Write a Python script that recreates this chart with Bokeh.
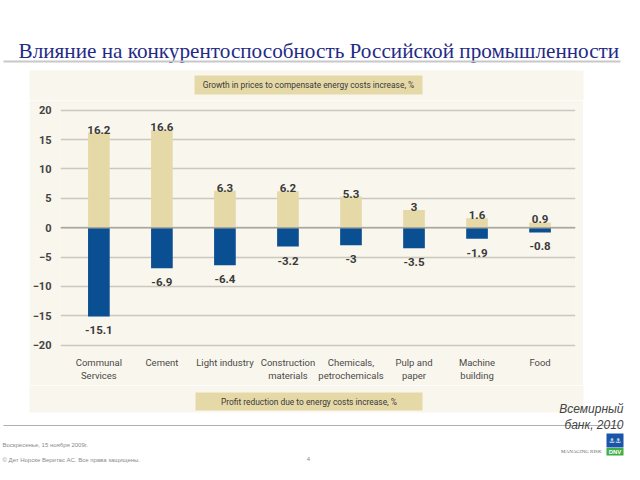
from bokeh.plotting import figure
from bokeh.models import Range1d, FixedTicker, BoxAnnotation, Label, Span, ColumnDataSource, Spacer
from bokeh.layouts import column, row
from bokeh.core.properties import value
from bokeh.embed import file_html
from bokeh.resources import INLINE

# ---------------- data ----------------
categories = ["Communal\nServices", "Cement", "Light industry", "Construction\nmaterials",
              "Chemicals,\npetrochemicals", "Pulp and\npaper", "Machine\nbuilding", "Food"]
price_growth = [16.2, 16.6, 6.3, 6.2, 5.3, 3.0, 1.6, 0.9]
profit_reduction = [-15.1, -6.9, -6.4, -3.2, -3.0, -3.5, -1.9, -0.8]
growth_labels = ["16.2", "16.6", "6.3", "6.2", "5.3", "3", "1.6", "0.9"]
reduction_labels = ["-15.1", "-6.9", "-6.4", "-3.2", "-3", "-3.5", "-1.9", "-0.8"]
y_ticks = [-20, -15, -10, -5, 0, 5, 10, 15, 20]

title_text = "Влияние на конкурентоспособность Российской промышленности"
top_caption = "Growth in prices to compensate energy costs increase, %"
bottom_caption = "Profit reduction due to energy costs increase, %"
source_lines = ["Всемирный", "банк, 2010"]
footer_date = "Воскресенье, 15 ноября 2009г."
footer_copy = "© Дет Норске Веритас АС. Все права защищены."
page_number = "4"
logo_text = "MANAGING RISK"
logo_brand = "DNV"

# ---------------- style ----------------
W = 624
SANS = "Roboto"
PANEL = "#f9f6ed"
BEIGE = "#e6d9a8"
BLUE = "#0b4f93"
GRID = "#cbc8bf"
TXT = "#3a3a3a"

# panel horizontal extent (canvas px)
PL, PR = 29, 583
# vertical split points (canvas px)
SPLIT1, SPLIT2, HTOT = 100, 385, 464


def plain_fig(height):
    f = figure(width=W, height=height, output_backend="svg", toolbar_location=None,
               x_range=Range1d(0, W), y_range=Range1d(0, height),
               x_axis_location=None, y_axis_location=None,
               min_border=0)
    f.min_border_left = f.min_border_right = f.min_border_top = f.min_border_bottom = 0
    f.grid.visible = False
    f.outline_line_color = None
    f.background_fill_color = "white"
    f.border_fill_color = "white"
    return f


def box(f, l, r, t, b, color):
    f.add_layout(BoxAnnotation(left=l, right=r, top=t, bottom=b, fill_color=color,
                               fill_alpha=1, line_color=None))


# ---------------- top figure ----------------
HA = SPLIT1
top = plain_fig(HA)
ya = lambda cy: HA - cy
box(top, PL, PR, ya(70), ya(HA), PANEL)
top.add_layout(Label(x=18, y=ya(50), text=title_text, text_align="left",
                     text_baseline="alphabetic", text_font="Liberation Serif",
                     text_font_size="21.2px", text_color="#1f2b85"))
box(top, 3, 620, ya(60), ya(62), "#c8c8c8")
box(top, 194, 422, ya(75), ya(94), BEIGE)
top.add_layout(Label(x=308, y=ya(84.5), text=top_caption, text_align="center",
                     text_baseline="middle", text_font=SANS, text_font_size="8.4px",
                     text_color=TXT))

# ---------------- chart figure ----------------
FL, FR, FT, FB = 52, 575, 107, 347   # frame edges in canvas px
X0, X1 = -0.609, 7.5625
Y0, Y1 = -20.39, 20.46
HB = SPLIT2 - SPLIT1

p = figure(width=PR - PL, height=HB, output_backend="svg", toolbar_location=None,
           x_range=Range1d(X0, X1), y_range=Range1d(Y0, Y1),
           min_border_left=FL - PL, min_border_right=PR - FR,
           min_border_top=FT - SPLIT1, min_border_bottom=SPLIT2 - FB)
p.outline_line_color = None
p.background_fill_color = PANEL
p.border_fill_color = PANEL

xs = list(range(len(categories)))
src = ColumnDataSource(dict(x=xs, up=price_growth, down=profit_reduction,
                            up_lbl=growth_labels, down_lbl=reduction_labels))

p.vbar(x="x", top="up", bottom=0, width=0.344, source=src, fill_color=BEIGE, line_color=None)
p.vbar(x="x", top=0, bottom="down", width=0.344, source=src, fill_color=BLUE, line_color=None)

p.text(x="x", y="up", text="up_lbl", source=src, text_align="center", text_baseline="alphabetic",
       y_offset=-3, text_font=value(SANS), text_font_size="11.5px", text_font_style="bold",
       text_color=TXT)
p.text(x="x", y="down", text="down_lbl", source=src, text_align="center", text_baseline="alphabetic",
       y_offset=14, text_font=value(SANS), text_font_size="11.5px", text_font_style="bold",
       text_color=TXT)

p.yaxis.ticker = FixedTicker(ticks=y_ticks)
p.yaxis.axis_line_color = None
p.yaxis.major_tick_line_color = None
p.yaxis.minor_tick_line_color = None
p.yaxis.major_label_standoff = 3
p.yaxis.major_label_text_font = SANS
p.yaxis.major_label_text_font_size = "11px"
p.yaxis.major_label_text_font_style = "bold"
p.yaxis.major_label_text_color = "#444444"

p.xaxis.ticker = FixedTicker(ticks=xs)
p.xaxis.major_label_overrides = {i: c for i, c in zip(xs, categories)}
p.xaxis.axis_line_color = None
p.xaxis.major_tick_line_color = None
p.xaxis.minor_tick_line_color = None
p.xaxis.major_label_standoff = 3
p.xaxis.major_label_text_font = SANS
p.xaxis.major_label_text_font_size = "9.5px"
p.xaxis.major_label_text_color = "#4a4a4a"
p.xaxis.major_label_text_line_height = 1.23

p.xgrid.grid_line_color = None
p.ygrid.ticker = FixedTicker(ticks=y_ticks)
p.ygrid.grid_line_color = GRID
p.ygrid.grid_line_width = 1.5
p.add_layout(Span(location=0, dimension="width", line_color="#a9a69d", line_width=1.5))

# ---------------- bottom figure ----------------
HC = HTOT - SPLIT2
bot = plain_fig(HC)
yc = lambda cy: HTOT - cy
box(bot, PL, PR, yc(SPLIT2), yc(412), PANEL)
box(bot, 195, 422, yc(392), yc(410), BEIGE)
bot.add_layout(Label(x=308.5, y=yc(401), text=bottom_caption, text_align="center",
                     text_baseline="middle", text_font=SANS, text_font_size="8.4px",
                     text_color=TXT))
box(bot, 3, 620, yc(424.5), yc(425.5), "#b0b0b0")
bot.add_layout(Label(x=623, y=yc(408), text=source_lines[0], text_align="right",
                     text_baseline="middle", text_font="Liberation Sans", text_font_style="italic",
                     text_font_size="12px", text_color="#444444"))
bot.add_layout(Label(x=623, y=yc(424), text=source_lines[1], text_align="right",
                     text_baseline="middle", text_font="Liberation Sans", text_font_style="italic",
                     text_font_size="12px", text_color="#444444"))
bot.add_layout(Label(x=2, y=yc(444), text=footer_date, text_align="left",
                     text_baseline="middle", text_font="Liberation Sans",
                     text_font_size="6px", text_color="#8a8a8a"))
bot.add_layout(Label(x=2, y=yc(459), text=footer_copy, text_align="left",
                     text_baseline="middle", text_font="Liberation Sans",
                     text_font_size="6px", text_color="#8a8a8a"))
bot.add_layout(Label(x=308, y=yc(458), text=page_number, text_align="center",
                     text_baseline="middle", text_font="Liberation Sans",
                     text_font_size="6px", text_color="#8a8a8a"))
# logo
box(bot, 606, 623, yc(433), yc(447), "#1a56a8")
bot.add_layout(Label(x=614.5, y=yc(440), text="⚓⚓", text_align="center",
                     text_baseline="middle", text_font="DejaVu Sans",
                     text_font_size="7px", text_color="white"))
box(bot, 606, 623, yc(447.5), yc(455), "#3fae49")
bot.add_layout(Label(x=614.5, y=yc(451.3), text=logo_brand, text_align="center",
                     text_baseline="middle", text_font="Liberation Sans", text_font_style="bold",
                     text_font_size="6px", text_color="white"))
bot.add_layout(Label(x=601, y=yc(451), text=logo_text, text_align="right",
                     text_baseline="middle", text_font="Liberation Serif",
                     text_font_size="5px", text_color="#666666"))

layout = column(top,
                row(Spacer(width=PL, height=HB), p, Spacer(width=W - PR, height=HB)),
                bot)

open("out.html", "w").write(file_html(layout, INLINE))
